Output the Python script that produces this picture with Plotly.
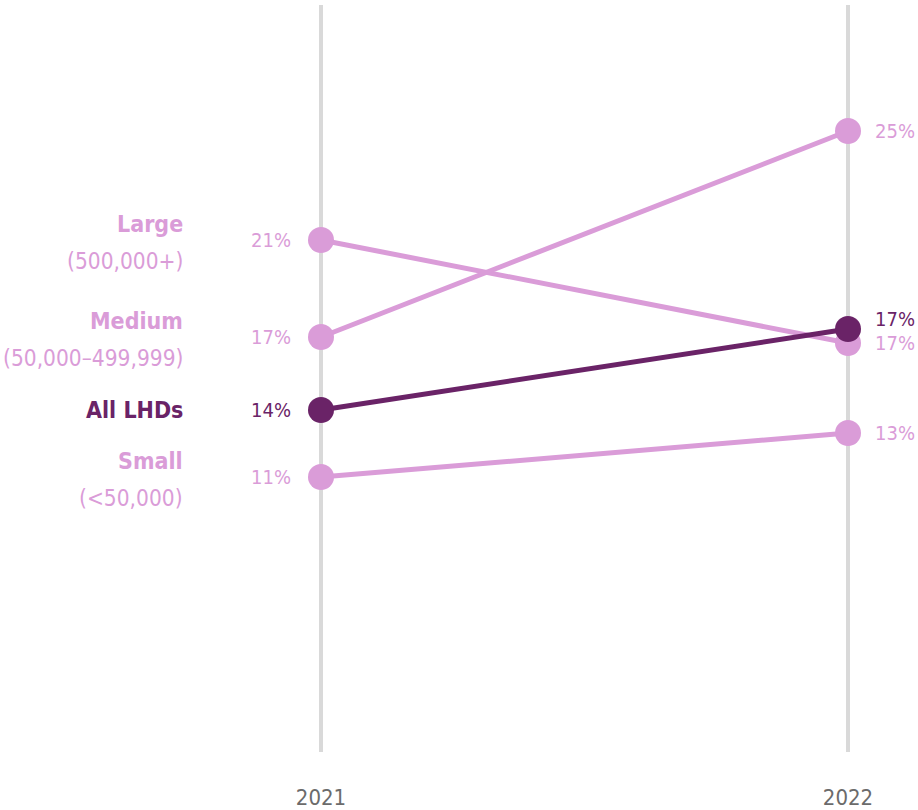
import plotly.graph_objects as go

years = [2021, 2022]
groups = ["Large", "Medium", "Small", "All LHDs"]
sublabels = ["(500,000+)", "(50,000–499,999)", "(<50,000)", ""]
values = {
    "Large": [20.84, 16.72],
    "Medium": [16.96, 25.2],
    "Small": [11.36, 13.12],
    "All LHDs": [14.04, 17.28],
}
# vertical nudge (px) for right-hand labels that would collide
right_label_shift = {"Large": 0, "Medium": 0, "Small": 0, "All LHDs": 10}

LIGHT = "#DA9CD8"
DARK = "#6A2367"
FONT = "Liberation Sans Narrow, DejaVu Sans Condensed, Roboto Condensed, sans-serif"

fig = go.Figure()
annotations = []
for g, sub in zip(groups, sublabels):
    col = DARK if g == "All LHDs" else LIGHT
    v = values[g]
    fig.add_trace(go.Scatter(
        x=years, y=v, mode="lines+markers",
        line=dict(color=col, width=5),
        marker=dict(color=col, size=26),
        hoverinfo="skip", showlegend=False,
    ))
    # value labels
    annotations.append(dict(x=years[0], y=v[0], text=f"{round(v[0])}%", xanchor="right",
                            xshift=-28, showarrow=False, font=dict(color=col, size=20, family=FONT)))
    annotations.append(dict(x=years[1], y=v[1], text=f"{round(v[1])}%", xanchor="left",
                            xshift=25, yshift=right_label_shift[g], showarrow=False,
                            font=dict(color=col, size=20, family=FONT)))
    # group labels
    if sub:
        annotations.append(dict(x=years[0], y=v[0], text=f"<b>{g}</b>", xanchor="right",
                                xshift=-136, yshift=16, showarrow=False,
                                font=dict(color=col, size=23, family=FONT)))
        annotations.append(dict(x=years[0], y=v[0], text=sub, xanchor="right",
                                xshift=-136, yshift=-21, showarrow=False,
                                font=dict(color=col, size=22.5, family=FONT)))
    else:
        annotations.append(dict(x=years[0], y=v[0], text=f"<b>{g}</b>", xanchor="right",
                                xshift=-136, showarrow=False,
                                font=dict(color=col, size=23, family=FONT)))

fig.update_layout(
    width=918, height=810,
    margin=dict(l=0, r=0, t=5, b=58),
    plot_bgcolor="white", paper_bgcolor="white",
    annotations=annotations,
    xaxis=dict(
        range=[2021 - 321 / 527, 2022 + 70 / 527],
        tickvals=years, ticktext=[str(y) for y in years],
        showgrid=True, gridcolor="#D9D9D9", gridwidth=4,
        zeroline=False, showline=False, ticks="",
        ticklabelstandoff=30,
        tickfont=dict(color="#6B6B6B", size=22, family=FONT),
    ),
    yaxis=dict(
        range=[0.36, 30.24], visible=False, showgrid=False, zeroline=False,
    ),
)

fig.write_html("out.html")
